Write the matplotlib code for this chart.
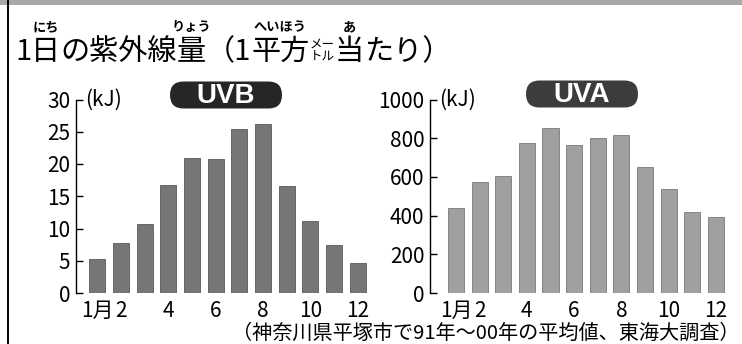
import matplotlib
matplotlib.use('Agg')
import matplotlib.pyplot as plt
from matplotlib.patches import FancyBboxPatch, Rectangle
from matplotlib.transforms import IdentityTransform

# monthly averages, Hiratsuka 1991-2000 (kJ per m2 per day)
months = list(range(1, 13))
uvb = [5.2, 7.8, 10.7, 16.8, 20.9, 20.8, 25.4, 26.2, 16.6, 11.1, 7.4, 4.6]
uva = [440, 574, 605, 774, 852, 765, 800, 817, 652, 536, 421, 393]
month_ticks = [1, 2, 4, 6, 8, 10, 12]
month_labels = ['1月', '2', '4', '6', '8', '10', '12']
uvb_ticks = [0, 5, 10, 15, 20, 25, 30]
uva_ticks = [0, 200, 400, 600, 800, 1000]
caption = '（神奈川県平塚市で91年～00年の平均値、東海大調査）'

plt.rcParams['font.family'] = ['Noto Sans CJK JP', 'DejaVu Sans']

W, H = 742, 344
fig = plt.figure(figsize=(W / 100, H / 100), dpi=100)
fig.patch.set_facecolor('white')
renderer = fig.canvas.get_renderer()
pix = IdentityTransform()


def fx(px):
    return px / W


def fy(py):
    return 1 - py / H


# grey strip on top and the frame line on the left
fig.add_artist(Rectangle((0, H - 5), W, 5, transform=pix, color='#a8a8a8', lw=0))
fig.add_artist(plt.Line2D([fx(8), fx(8)], [0, 1], color='black', lw=1.4))

# title with ruby
title_size = 21
ruby_size = 9.5
base_y = 60
ruby_y = 31
pieces = [('1', None), ('日', 'にち'), ('の紫外線', None), ('量', 'りょう'),
          ('（1', None), ('平方', 'へいほう'), ('STACK', None), ('当', 'あ'),
          ('たり）', None)]
x = 15
for txt, ruby in pieces:
    if txt == 'STACK':
        t1 = fig.text(fx(x), fy(base_y - 12), 'メー', fontsize=9, ha='left', va='baseline')
        t2 = fig.text(fx(x), fy(base_y), 'トル', fontsize=9, ha='left', va='baseline')
        x = max(t1.get_window_extent(renderer).x1, t2.get_window_extent(renderer).x1)
        continue
    t = fig.text(fx(x), fy(base_y), txt, fontsize=title_size, ha='left', va='baseline')
    bb = t.get_window_extent(renderer)
    if ruby:
        fig.text(fx((bb.x0 + bb.x1) / 2), fy(ruby_y), ruby, fontsize=ruby_size,
                 weight='bold', ha='center', va='baseline')
    x = bb.x1


def badge(cx, cy, label, color):
    w, h = 112, 27
    fig.add_artist(FancyBboxPatch((cx - w / 2, H - cy - h / 2), w, h,
                                  boxstyle='round,pad=0,rounding_size=13.5',
                                  transform=pix, color=color, lw=0))
    fig.text(fx(cx), fy(cy + 1), label, fontsize=20, weight='bold', color='white',
             ha='center', va='center', family=['Liberation Sans', 'DejaVu Sans'])


def panel(left, right, values, xlim, ylim, yticks, color, edge):
    ax = fig.add_axes([fx(left), fy(293), fx(right - left), (293 - 99.5) / H])
    ax.bar(months, values, width=0.68, color=color, edgecolor=edge, linewidth=0.6)
    ax.set_xlim(*xlim)
    ax.set_ylim(*ylim)
    ax.set_yticks(yticks)
    ax.set_xticks(month_ticks, month_labels)
    ax.tick_params(axis='x', length=0, pad=5, labelsize=15)
    ax.tick_params(axis='y', direction='in', length=5, width=1, labelsize=15, pad=4)
    for s in ['top', 'right', 'bottom']:
        ax.spines[s].set_visible(False)
    ax.spines['left'].set_linewidth(1)
    ax.patch.set_alpha(0)
    ax.text(0.03, 1.0, '(kJ)', transform=ax.transAxes, fontsize=15,
            ha='left', va='center')
    return ax


panel(76, 372, uvb, (0.1, 12.6), (0, 30), uvb_ticks, '#767676', '#585858')
panel(430, 730, uva, (-0.1, 12.6), (0, 1000), uva_ticks, '#a0a0a0', '#7a7a7a')
badge(226, 95, 'UVB', '#262626')
badge(582, 94, 'UVA', '#3c3c3c')

fig.text(fx(740), fy(323), caption, fontsize=14.5, ha='right', va='top')

fig.savefig('out.png', dpi=100)
